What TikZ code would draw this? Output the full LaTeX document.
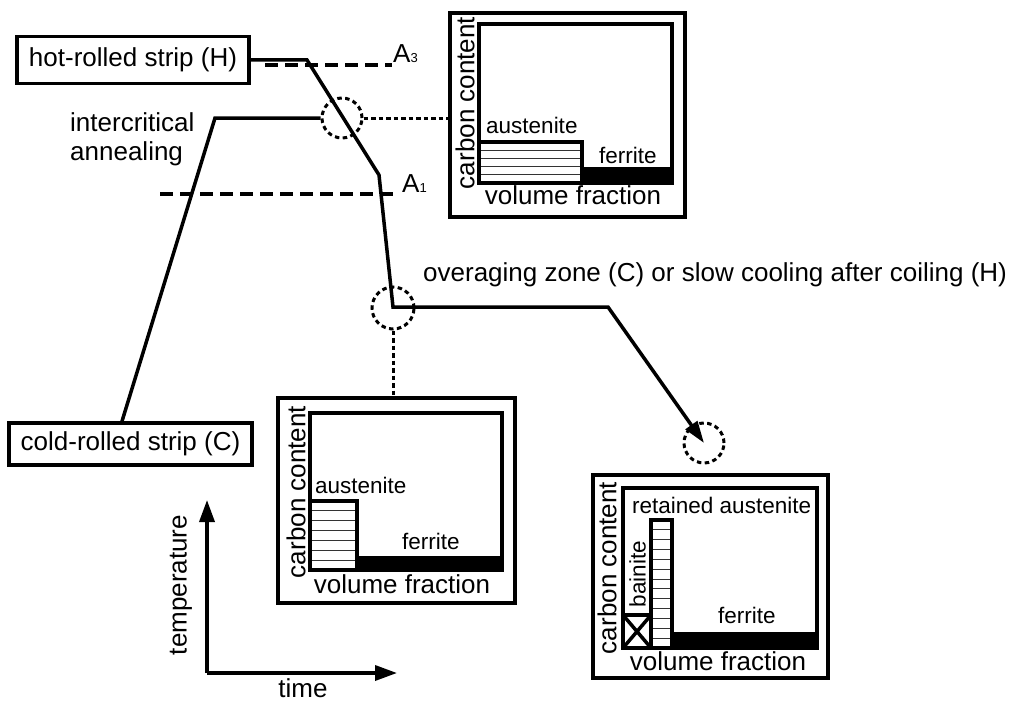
\documentclass[tikz,border=0pt]{standalone}
\usepackage{fontspec}
\setmainfont{Liberation Sans}
\usetikzlibrary{arrows.meta}
\newcommand\subdig[1]{{\fontsize{13}{13}\selectfont #1}}
\tikzset{
  every node/.style={font=\fontsize{26}{29}\selectfont, inner sep=0pt},
  strip/.style={draw, line width=3.5pt, minimum width=#1, minimum height=45pt},
  plotbox/.style={draw, line width=3.5pt},
  frame/.style={line width=3.5pt},
  curve/.style={line width=3.5pt, line join=miter},
  aline/.style={line width=3.3pt, dash pattern=on 13pt off 7pt},
  dotline/.style={line width=3pt, dash pattern=on 4.5pt off 3pt},
  dotcirc/.style={draw, circle, line width=3pt, dash pattern=on 4.5pt off 3.4pt},
  hatch/.style={line width=1pt, draw=black!80},
  axis/.style={line width=3.5pt, -{Triangle[length=22pt,width=15pt]}},
  lbl/.style={anchor=base west},
  small/.style={font=\fontsize{22.5}{26}\selectfont},
  rot/.style={rotate=90, anchor=center}
}
\begin{document}
\begin{tikzpicture}[x=1pt,y=-1pt]
\useasboundingbox (0,0) rectangle (1009,701);

% strip boxes
\node[strip=232pt, minimum height=47pt] (hot) at (133,60) {hot-rolled strip (H)};
\node[strip=243pt, minimum height=42pt] (cold) at (130.5,444) {cold-rolled strip (C)};

% critical temperatures
\coordinate (a3s) at (265,65); \coordinate (a3e) at (392,65);
\coordinate (a1s) at (160,194); \coordinate (a1e) at (398,194);
\draw[aline] (a3s) -- (a3e);
\draw[aline] (a1s) -- (a1e);
\node[lbl] (A3) at (393,63) {A\subdig{3}};
\node[lbl] (A1) at (402,192) {A\subdig{1}};

% magnifier circles
\node[dotcirc, minimum size=40pt] (circ1) at (342,118) {};
\node[dotcirc, minimum size=42pt] (circ2) at (393,308) {};
\node[dotcirc, minimum size=40pt] (circ3) at (704,443) {};

% plot boxes
\node[plotbox, minimum width=235pt, minimum height=204pt] (box1) at (567.5,115) {};
\node[plotbox, minimum width=237pt, minimum height=205pt] (box2) at (396.5,500.5) {};
\node[plotbox, minimum width=235pt, minimum height=203pt] (box3) at (710.5,576.5) {};

% hot-rolled cooling path
\coordinate (h1) at (307,60);
\coordinate (h2) at (379,175);
\coordinate (h3) at (393,307);
\coordinate (h4) at (608,307);
\draw[curve, -{Triangle[length=22pt,width=14pt]}] (hot.east) -- (h1) -- (h2) -- (h3) -- (h4) -- (circ3.center);

% intercritical annealing path
\coordinate (c1) at (215,118);
\draw[curve] ([xshift=-8.5pt]cold.north) -- (c1) -- (circ1.west);

% dotted leaders
\draw[dotline] (circ1.east) -- (circ1.east -| box1.west);
\draw[dotline] (circ2.south) -- (circ2.south |- box2.north);

% labels
\node[lbl] (ica1) at (70,131) {intercritical};
\node[lbl] (ica2) at (70,160) {annealing};
\node[lbl] (over) at (423,281) {overaging zone (C) or slow cooling after coiling (H)};

% ---- box 1 content
\fill (582,167) rectangle (672,183);
\foreach \yy in {150.2,158.4,166.6,174.8} \draw[hatch] (479,\yy) -- (582,\yy);
\draw[frame] (479,142) rectangle (582,183);
\draw[frame] (479,24) rectangle (672,183);
\node[lbl, small] (b1aus) at (486,133) {austenite};
\node[lbl, small] (b1fer) at (599,163) {ferrite};
\node[anchor=base] (b1vf) at (573,204) {volume fraction};
\node[rot] (b1cc) at (465,103) {carbon content};

% ---- box 2 content
\fill (357,556) rectangle (502,570);
\foreach \k in {1,...,6} \draw[hatch] (310,{501+\k*69/7}) -- (357,{501+\k*69/7});
\draw[frame] (310,501) rectangle (357,570);
\draw[frame] (310,413) rectangle (502,570);
\node[lbl, small] (b2aus) at (315,493) {austenite};
\node[lbl, small] (b2fer) at (402,549) {ferrite};
\node[anchor=base] (b2vf) at (402,593) {volume fraction};
\node[rot] (b2cc) at (296,492) {carbon content};

% ---- box 3 content
\fill (672,632) rectangle (817,648);
\foreach \k in {1,...,12} \draw[hatch] (651,{520+\k*128/13}) -- (672,{520+\k*128/13});
\draw[frame] (651,520) rectangle (672,648);
\draw[frame] (623,615) rectangle (651,648);
\draw[frame] (623,615) -- (651,648);
\draw[frame] (623,648) -- (651,615);
\draw[frame] (623,488) rectangle (817,648);
\node[lbl, small] (b3ra) at (632,513) {retained austenite};
\node[lbl, small] (b3fer) at (718,623) {ferrite};
\node[anchor=base] (b3vf) at (718,670) {volume fraction};
\node[rot] (b3cc) at (607,568) {carbon content};
\node[rot, small] (b3bai) at (637.5,574) {bainite};

% axes
\coordinate (orig) at (207,673);
\coordinate (ttop) at (207,500);
\coordinate (tright) at (397,673);
\draw[axis] (orig) -- (ttop);
\draw[axis] (orig) -- (tright);
\node[rot] (temp) at (181,585) {temperature};
\node[anchor=base] (time) at (303,697) {time};
\end{tikzpicture}
\end{document}
